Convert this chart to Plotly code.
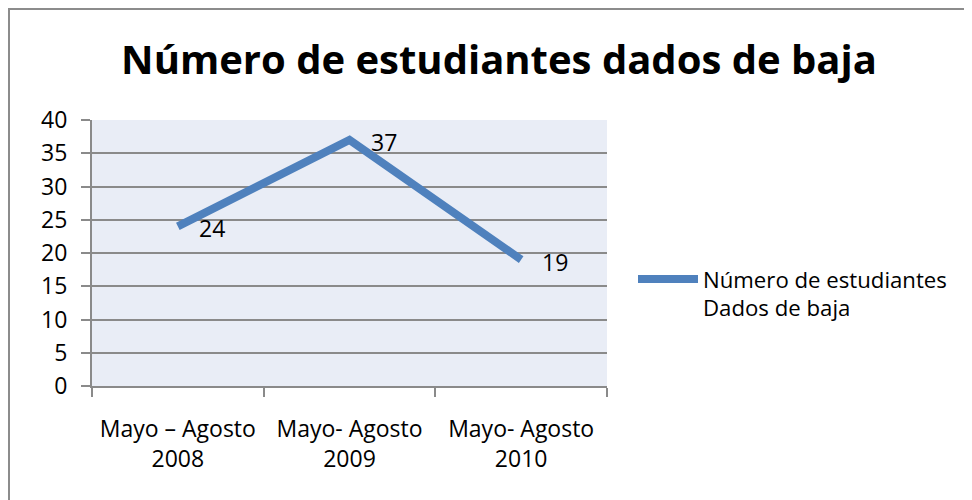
import plotly.graph_objects as go

categories = ["Mayo – Agosto<br>2008", "Mayo- Agosto<br>2009", "Mayo- Agosto<br>2010"]
values = [24, 37, 19]
series_name = "Número de estudiantes<br>Dados de baja"
title_text = "Número de estudiantes dados de baja"

FONT = "Open Sans"
BLUE = "#4F81BD"
GRID = "#8a8a8a"
FS = 23

fig = go.Figure()
fig.add_trace(go.Scatter(
    x=categories, y=values, mode="lines", name=series_name,
    line=dict(color=BLUE, width=8),
    showlegend=True,
))

for c, v in zip(categories, values):
    fig.add_annotation(x=c, y=v, text=str(v), showarrow=False,
                       xanchor="left", yanchor="middle", xshift=19, yshift=-2,
                       font=dict(family=FONT, size=FS, color="#000"))

# page body has an 8px margin: figure is drawn in coordinates offset by 8px
OFF = 8
W, H = 972 - OFF, 500 - OFF
L, R, T, B = 92 - OFF, 964 - (607 - OFF), 120 - OFF, 492 - (386 - OFF)
pw, ph = W - L - R, H - T - B

def px2paper_x(px):
    return (px - OFF - L) / pw

def px2paper_y(py):
    return (H - B - (py - OFF)) / ph

fig.add_shape(type="rect", xref="paper", yref="paper",
              x0=px2paper_x(9), x1=px2paper_x(1000),
              y0=px2paper_y(530), y1=px2paper_y(9),
              line=dict(color="#8c8c8c", width=2), fillcolor="rgba(0,0,0,0)",
              layer="below")

fig.update_layout(
    width=W, height=H,
    margin=dict(l=L, r=R, t=T, b=B),
    paper_bgcolor="white",
    plot_bgcolor="#E9EDF6",
    font=dict(family=FONT, size=FS, color="#000"),
    title=dict(text="<b>" + title_text + "</b>", x=(499 - OFF) / W, xanchor="center",
               y=1 - (60 - OFF) / H, yanchor="middle",
               font=dict(family=FONT, size=40, color="#000")),
    legend=dict(x=px2paper_x(633), y=px2paper_y(258), xanchor="left", yanchor="top",
                valign="top", font=dict(family=FONT, size=22.2, color="#000"),
                bgcolor="rgba(0,0,0,0)", itemwidth=60),
    xaxis=dict(type="category", range=[-0.5, 2.5], tickson="boundaries",
               ticks="outside", ticklen=9, tickcolor=GRID, tickwidth=2,
               showline=True, linecolor=GRID, linewidth=2,
               showgrid=False, tickfont=dict(size=FS), ticklabelstandoff=21,
               automargin=False),
    yaxis=dict(range=[0, 40], dtick=5, ticks="outside", ticklen=9,
               tickcolor=GRID, tickwidth=2, showline=True, linecolor=GRID,
               linewidth=2, gridcolor=GRID, gridwidth=2, zeroline=False,
               tickfont=dict(size=FS), ticklabelstandoff=9, automargin=False),
)

fig.write_html("out.html")
